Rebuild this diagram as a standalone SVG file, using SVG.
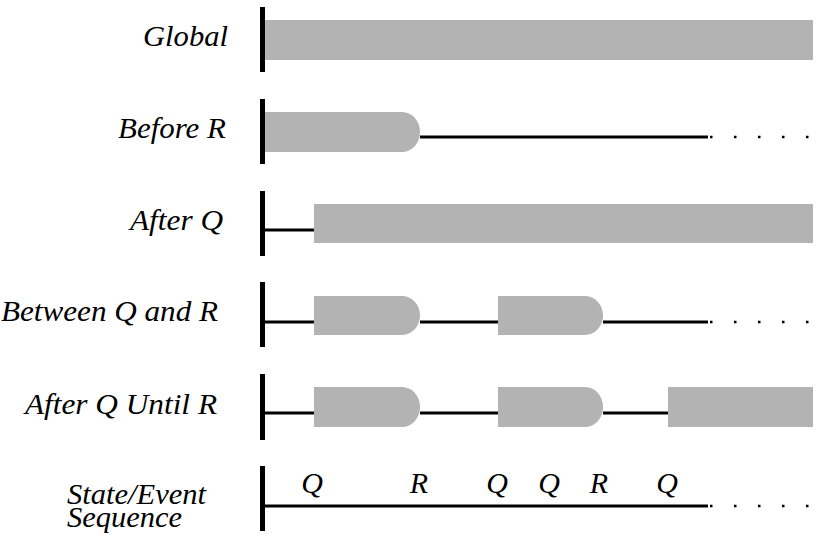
<svg xmlns="http://www.w3.org/2000/svg" width="830" height="542" viewBox="0 0 830 542">
<style>
text{font-family:'Liberation Serif','Times New Roman',serif;font-style:italic;font-size:30px;fill:#000}
.ev{text-anchor:middle}
.bar{fill:#000}
.g{fill:#b3b3b3}
.ln{stroke:#000;stroke-width:3;fill:none}
.dots{stroke:#000;stroke-width:2.5;stroke-dasharray:2.5 21.5;fill:none}
</style>
<rect width="830" height="542" fill="#fff"/>
<g id="global">
  <text x="143" y="46" textLength="85" lengthAdjust="spacingAndGlyphs">Global</text>
  <rect class="bar" x="260" y="7" width="5" height="65"/>
  <rect class="g" x="265" y="20" width="548" height="40"/>
</g>
<g id="before-r">
  <text x="118" y="138" textLength="108" lengthAdjust="spacingAndGlyphs">Before R</text>
  <rect class="bar" x="260" y="99" width="5" height="65"/>
  <path class="g" d="M265 112 H402 A18 20 0 0 1 402 152 H265 Z"/>
</g>
<g id="after-q">
  <text x="130" y="230" textLength="93" lengthAdjust="spacingAndGlyphs">After Q</text>
  <rect class="bar" x="260" y="191" width="5" height="65"/>
  <rect class="g" x="314" y="204" width="499" height="39"/>
</g>
<g id="between-q-and-r">
  <text x="1" y="321" textLength="217" lengthAdjust="spacingAndGlyphs">Between Q and R</text>
  <rect class="bar" x="260" y="282" width="5" height="65"/>
  <path class="g" d="M314 296 H402 A18 19.5 0 0 1 402 335 H314 Z"/>
  <path class="g" d="M498 296 H585 A18 19.5 0 0 1 585 335 H498 Z"/>
</g>
<g id="after-q-until-r">
  <text x="25" y="414" textLength="192" lengthAdjust="spacingAndGlyphs">After Q Until R</text>
  <rect class="bar" x="260" y="374" width="5" height="66"/>
  <path class="g" d="M314 387 H402 A18 20 0 0 1 402 427 H314 Z"/>
  <path class="g" d="M498 387 H585 A18 20 0 0 1 585 427 H498 Z"/>
  <rect class="g" x="668" y="387" width="145" height="40"/>
</g>
<g id="state-event-sequence">
  <text x="67" y="504" textLength="139" lengthAdjust="spacingAndGlyphs">State/Event</text>
  <text x="67" y="527" textLength="115" lengthAdjust="spacingAndGlyphs">Sequence</text>
  <rect class="bar" x="260" y="466" width="5" height="65"/>
  <text class="ev" x="312" y="493">Q</text>
  <text class="ev" x="419" y="493">R</text>
  <text class="ev" x="497" y="493">Q</text>
  <text class="ev" x="549" y="493">Q</text>
  <text class="ev" x="599" y="493">R</text>
  <text class="ev" x="667" y="493">Q</text>
</g>
<g id="connectors">
  <line class="ln" x1="420" y1="137" x2="708" y2="137"/>
  <line class="dots" x1="710" y1="137" x2="810" y2="137"/>
  <line class="ln" x1="265" y1="230" x2="314" y2="230"/>
  <line class="ln" x1="265" y1="322" x2="314" y2="322"/>
  <line class="ln" x1="420" y1="322" x2="498" y2="322"/>
  <line class="ln" x1="603" y1="322" x2="708" y2="322"/>
  <line class="dots" x1="710" y1="322" x2="810" y2="322"/>
  <line class="ln" x1="265" y1="413" x2="314" y2="413"/>
  <line class="ln" x1="420" y1="413" x2="498" y2="413"/>
  <line class="ln" x1="603" y1="413" x2="668" y2="413"/>
  <line class="ln" x1="265" y1="506" x2="708" y2="506"/>
  <line class="dots" x1="710" y1="506" x2="810" y2="506"/>
</g>
</svg>
